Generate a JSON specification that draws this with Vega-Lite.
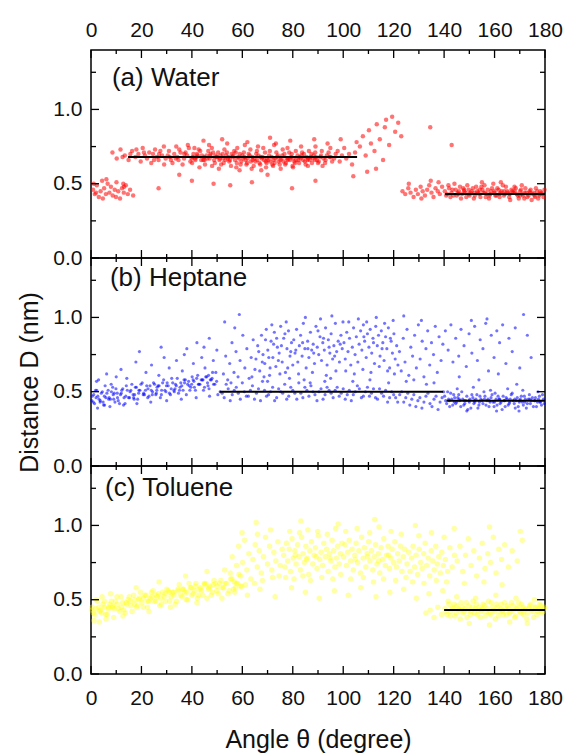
{
"$schema": "https://vega.github.io/schema/vega-lite/v6.json",
"background": "white",
"padding": {"left": 17, "top": 18, "right": 5, "bottom": 5},
"spacing": 0,
"bounds": "flush",
"datasets": {
 "xmaj": [{"v": 0}, {"v": 20}, {"v": 40}, {"v": 60}, {"v": 80}, {"v": 100}, {"v": 120}, {"v": 140}, {"v": 160}, {"v": 180}],
 "xmin": [{"v": 10}, {"v": 30}, {"v": 50}, {"v": 70}, {"v": 90}, {"v": 110}, {"v": 130}, {"v": 150}, {"v": 170}],
 "ymaj": [{"v": 0}, {"v": 0.5}, {"v": 1.0}],
 "ymin": [{"v": 0.25}, {"v": 0.75}, {"v": 1.25}]
},
"config": {
 "view": {"stroke": "#000", "strokeWidth": 1.5},
 "axis": {"domain": false, "grid": false, "ticks": false, "labelColor": "#111", "labelFont": "Liberation Sans", "labelFontSize": 21, "labelFlush": false, "labelOverlap": false, "titleFont": "Liberation Sans", "titleFontWeight": "normal", "titleColor": "#111"}
},
"vconcat": [
{
 "width": 454, "height": 208,
 "resolve": {"scale": {"x": "independent", "y": "independent"}, "axis": {"x": "independent", "y": "independent"}},
 "layer": [
  {
   "data": {"values": "x,y\n0.8,0.46\n1.5,0.43\n2.3,0.49\n3.1,0.41\n3.8,0.45\n4.4,0.52\n5.2,0.47\n5.9,0.43\n6.6,0.50\n7.3,0.44\n7.9,0.48\n8.6,0.42\n9.4,0.46\n10.1,0.51\n10.8,0.45\n11.5,0.40\n12.3,0.47\n13.0,0.44\n13.8,0.49\n14.6,0.43\n15.5,0.46\n16.7,0.42\n2.0,0.44\n6.1,0.53\n9.9,0.41\n12.8,0.50\n4.7,0.40\n1.1,0.50\n8.5,0.71\n10.2,0.67\n11.7,0.73\n13.4,0.69\n14.9,0.66\n16.3,0.72\n17.6,0.68\n18.8,0.70\n19.7,0.65\n20.5,0.74\n21.4,0.69\n22.2,0.67\n23.1,0.71\n23.9,0.64\n24.6,0.70\n25.4,0.73\n26.1,0.68\n26.8,0.66\n27.5,0.72\n28.2,0.69\n28.9,0.75\n29.6,0.67\n21.0,0.71\n25.0,0.66\n27.0,0.70\n29.0,0.63\n18.0,0.73\n15.6,0.70\n12.5,0.68\n30.4,0.69\n31.7,0.66\n33.0,0.70\n34.2,0.68\n35.5,0.71\n36.9,0.67\n38.1,0.69\n39.4,0.65\n40.6,0.70\n41.9,0.68\n43.3,0.72\n44.5,0.66\n45.8,0.69\n47.0,0.67\n48.4,0.71\n49.7,0.68\n50.9,0.66\n52.2,0.70\n53.6,0.69\n54.8,0.65\n56.1,0.68\n57.4,0.71\n58.7,0.67\n60.0,0.69\n61.3,0.66\n62.5,0.70\n63.9,0.68\n65.2,0.65\n66.4,0.69\n67.7,0.67\n69.0,0.71\n70.3,0.66\n71.6,0.68\n72.8,0.64\n74.1,0.69\n75.5,0.67\n76.7,0.70\n78.0,0.66\n79.3,0.68\n80.6,0.65\n81.9,0.69\n83.1,0.67\n84.4,0.70\n85.8,0.66\n87.0,0.68\n88.3,0.69\n89.6,0.66\n90.9,0.68\n92.2,0.67\n93.5,0.69\n95.0,0.68\n96.4,0.67\n30.9,0.72\n32.3,0.64\n33.6,0.67\n35.0,0.73\n36.3,0.63\n37.5,0.71\n38.8,0.74\n40.1,0.64\n41.4,0.66\n42.7,0.73\n44.0,0.69\n45.2,0.63\n46.5,0.72\n47.9,0.74\n49.1,0.64\n50.4,0.71\n51.6,0.63\n52.9,0.73\n54.2,0.67\n55.5,0.62\n56.8,0.72\n58.0,0.74\n59.3,0.63\n60.6,0.71\n61.9,0.64\n63.2,0.73\n64.5,0.62\n65.8,0.72\n67.1,0.63\n68.3,0.74\n69.6,0.64\n70.9,0.72\n72.2,0.62\n73.5,0.71\n74.8,0.63\n76.0,0.73\n77.3,0.64\n78.6,0.71\n79.9,0.62\n81.2,0.72\n82.5,0.64\n83.7,0.71\n85.1,0.63\n86.4,0.72\n87.6,0.64\n88.9,0.71\n90.3,0.65\n91.5,0.72\n92.8,0.64\n94.2,0.71\n95.6,0.65\n97.0,0.70\n31.2,0.68\n34.7,0.66\n37.0,0.70\n39.9,0.67\n42.3,0.69\n45.0,0.66\n47.4,0.70\n49.3,0.69\n51.1,0.67\n52.6,0.64\n53.9,0.71\n55.1,0.66\n56.4,0.69\n57.8,0.64\n59.0,0.70\n60.3,0.67\n61.6,0.63\n62.9,0.69\n64.1,0.66\n65.5,0.70\n66.8,0.64\n68.0,0.68\n69.3,0.65\n70.6,0.69\n71.9,0.63\n73.1,0.67\n74.4,0.65\n75.8,0.69\n77.0,0.63\n78.3,0.67\n79.6,0.70\n80.9,0.64\n82.2,0.66\n83.5,0.69\n84.8,0.65\n86.1,0.67\n87.4,0.70\n88.7,0.66\n90.0,0.64\n91.2,0.69\n93.0,0.66\n94.6,0.68\n40.3,0.68\n41.2,0.67\n42.0,0.70\n43.7,0.66\n44.9,0.68\n46.1,0.67\n47.2,0.69\n48.8,0.66\n50.0,0.68\n51.3,0.69\n52.4,0.67\n53.3,0.66\n54.5,0.68\n55.8,0.70\n57.1,0.66\n58.3,0.68\n59.6,0.65\n60.8,0.68\n62.1,0.67\n63.4,0.65\n64.7,0.67\n65.9,0.66\n67.3,0.68\n68.6,0.66\n69.8,0.67\n71.1,0.65\n72.4,0.66\n73.8,0.68\n75.1,0.66\n76.3,0.65\n77.6,0.67\n78.9,0.66\n80.2,0.67\n81.4,0.66\n82.8,0.68\n84.1,0.66\n85.4,0.68\n86.7,0.66\n88.0,0.67\n89.2,0.68\n33.8,0.75\n38.4,0.76\n43.0,0.61\n46.8,0.76\n50.7,0.60\n54.0,0.77\n57.6,0.61\n61.0,0.76\n63.7,0.60\n66.2,0.75\n69.4,0.61\n72.6,0.76\n75.2,0.60\n77.9,0.74\n80.1,0.61\n83.3,0.75\n86.0,0.62\n89.0,0.75\n91.8,0.62\n94.9,0.74\n58.9,0.59\n67.5,0.59\n73.3,0.77\n48.0,0.62\n41.0,0.74\n44.6,0.79\n52.0,0.80\n62.0,0.78\n71.0,0.81\n79.0,0.79\n88.5,0.80\n93.8,0.77\n26.8,0.47\n40.0,0.52\n48.6,0.50\n55.2,0.49\n63.8,0.51\n79.7,0.47\n89.0,0.52\n13.1,0.48\n35.0,0.56\n70.0,0.56\n97.8,0.72\n98.6,0.65\n99.5,0.69\n100.4,0.74\n101.2,0.67\n102.3,0.70\n103.5,0.63\n104.7,0.71\n105.3,0.78\n106.6,0.75\n107.8,0.82\n108.9,0.69\n110.2,0.86\n111.0,0.77\n112.4,0.72\n113.3,0.90\n114.5,0.80\n115.8,0.66\n117.0,0.93\n118.2,0.76\n119.4,0.95\n120.6,0.85\n121.8,0.91\n123.0,0.82\n113.0,0.60\n104.0,0.55\n109.5,0.58\n99.0,0.80\n116.5,0.88\n134.5,0.88\n143.0,0.76\n123.5,0.45\n124.6,0.43\n125.8,0.47\n126.7,0.44\n127.9,0.41\n128.8,0.46\n129.6,0.43\n130.7,0.48\n131.5,0.45\n132.4,0.42\n133.3,0.46\n134.1,0.49\n135.0,0.44\n135.8,0.41\n136.6,0.47\n137.5,0.45\n138.3,0.43\n139.2,0.48\n126.0,0.50\n131.0,0.40\n134.7,0.52\n137.8,0.51\n140.3,0.45\n141.2,0.43\n142.0,0.47\n142.9,0.44\n143.7,0.42\n144.6,0.46\n145.4,0.44\n146.3,0.48\n147.1,0.43\n148.0,0.45\n148.8,0.41\n149.7,0.46\n150.5,0.44\n151.4,0.47\n152.2,0.42\n153.1,0.45\n153.9,0.43\n154.8,0.48\n155.6,0.44\n156.5,0.41\n157.3,0.46\n158.2,0.43\n159.0,0.47\n159.9,0.44\n160.7,0.42\n161.6,0.46\n162.4,0.44\n163.3,0.49\n164.1,0.43\n165.0,0.45\n165.8,0.41\n166.7,0.46\n167.5,0.44\n168.4,0.47\n169.2,0.42\n170.1,0.45\n170.9,0.43\n171.8,0.40\n172.6,0.44\n173.5,0.42\n174.3,0.46\n175.2,0.43\n176.0,0.41\n176.9,0.45\n177.7,0.42\n178.6,0.44\n179.4,0.41\n140.8,0.42\n141.7,0.49\n142.5,0.41\n143.3,0.46\n144.1,0.50\n145.0,0.42\n145.9,0.45\n146.7,0.40\n147.6,0.47\n148.4,0.44\n149.2,0.49\n150.1,0.42\n150.9,0.45\n151.8,0.40\n152.7,0.48\n153.5,0.44\n154.4,0.41\n155.2,0.46\n156.0,0.49\n156.9,0.43\n157.8,0.40\n158.6,0.45\n159.5,0.50\n160.3,0.42\n161.1,0.47\n162.0,0.41\n162.8,0.45\n163.7,0.42\n164.5,0.48\n165.4,0.44\n166.2,0.39\n167.1,0.45\n167.9,0.48\n168.8,0.43\n169.6,0.40\n170.5,0.46\n171.3,0.42\n172.2,0.47\n173.0,0.41\n173.9,0.45\n174.7,0.39\n175.6,0.44\n176.4,0.47\n177.3,0.40\n178.1,0.45\n179.0,0.43\n179.8,0.46\n145.6,0.43\n147.9,0.46\n149.9,0.43\n152.0,0.44\n154.1,0.46\n156.2,0.44\n158.0,0.42\n160.0,0.45\n161.9,0.43\n163.9,0.45\n166.0,0.43\n168.0,0.45\n170.0,0.42\n171.9,0.44\n174.0,0.44\n175.9,0.42\n177.9,0.43\n155.0,0.51\n162.5,0.51\n170.8,0.49", "format": {"type": "csv", "parse": {"x": "number", "y": "number"}}},
   "mark": {"type": "circle", "size": 20, "opacity": 0.55, "color": "#ff0000"},
   "encoding": {
    "x": {"field": "x", "type": "quantitative", "scale": {"domain": [0, 180], "nice": false, "zero": false}, "axis": {"orient": "top", "values": [0,20,40,60,80,100,120,140,160,180], "labelPadding": 10, "title": null}},
    "y": {"field": "y", "type": "quantitative", "scale": {"domain": [0, 1.4], "nice": false}, "axis": {"orient": "left", "values": [0, 0.5, 1], "format": ".1f", "labelPadding": 9, "title": null}}
   }
  },
  {
   "data": {"values": [{"x1": 14.7, "x2": 105.5, "y": 0.68}, {"x1": 140.4, "x2": 180, "y": 0.43}]},
   "mark": {"type": "rule", "color": "#000", "strokeWidth": 2},
   "encoding": {"x": {"field": "x1", "type": "quantitative", "scale": {"domain": [0, 180], "nice": false, "zero": false}, "axis": null}, "x2": {"field": "x2"}, "y": {"field": "y", "type": "quantitative", "scale": {"domain": [0, 1.4], "nice": false}, "axis": null}}
  },
  {"data": {"name": "xmaj"}, "mark": {"type": "tick", "orient": "vertical", "size": 8, "thickness": 1.3, "color": "#000", "opacity": 1, "yOffset": -4}, "encoding": {"x": {"field": "v", "type": "quantitative", "scale": {"domain": [0, 180], "nice": false, "zero": false}, "axis": null}, "y": {"datum": 0, "type": "quantitative", "scale": {"domain": [0, 1.4], "nice": false}, "axis": null}}},
  {"data": {"name": "xmin"}, "mark": {"type": "tick", "orient": "vertical", "size": 4, "thickness": 1.3, "color": "#000", "opacity": 1, "yOffset": -2}, "encoding": {"x": {"field": "v", "type": "quantitative", "scale": {"domain": [0, 180], "nice": false, "zero": false}, "axis": null}, "y": {"datum": 0, "type": "quantitative", "scale": {"domain": [0, 1.4], "nice": false}, "axis": null}}},
  {"data": {"name": "xmaj"}, "mark": {"type": "tick", "orient": "vertical", "size": 8, "thickness": 1.3, "color": "#000", "opacity": 1, "yOffset": 4}, "encoding": {"x": {"field": "v", "type": "quantitative", "scale": {"domain": [0, 180], "nice": false, "zero": false}, "axis": null}, "y": {"datum": 1.4, "type": "quantitative", "scale": {"domain": [0, 1.4], "nice": false}, "axis": null}}},
  {"data": {"name": "xmin"}, "mark": {"type": "tick", "orient": "vertical", "size": 4, "thickness": 1.3, "color": "#000", "opacity": 1, "yOffset": 2}, "encoding": {"x": {"field": "v", "type": "quantitative", "scale": {"domain": [0, 180], "nice": false, "zero": false}, "axis": null}, "y": {"datum": 1.4, "type": "quantitative", "scale": {"domain": [0, 1.4], "nice": false}, "axis": null}}},
  {"data": {"name": "ymaj"}, "mark": {"type": "tick", "orient": "horizontal", "size": 8, "thickness": 1.3, "color": "#000", "opacity": 1, "xOffset": 4}, "encoding": {"y": {"field": "v", "type": "quantitative", "scale": {"domain": [0, 1.4], "nice": false}, "axis": null}, "x": {"datum": 0, "type": "quantitative", "scale": {"domain": [0, 180], "nice": false, "zero": false}, "axis": null}}},
  {"data": {"name": "ymin"}, "mark": {"type": "tick", "orient": "horizontal", "size": 5, "thickness": 1.3, "color": "#000", "opacity": 1, "xOffset": 2.5}, "encoding": {"y": {"field": "v", "type": "quantitative", "scale": {"domain": [0, 1.4], "nice": false}, "axis": null}, "x": {"datum": 0, "type": "quantitative", "scale": {"domain": [0, 180], "nice": false, "zero": false}, "axis": null}}},
  {"data": {"name": "ymaj"}, "mark": {"type": "tick", "orient": "horizontal", "size": 8, "thickness": 1.3, "color": "#000", "opacity": 1, "xOffset": -4}, "encoding": {"y": {"field": "v", "type": "quantitative", "scale": {"domain": [0, 1.4], "nice": false}, "axis": null}, "x": {"datum": 180, "type": "quantitative", "scale": {"domain": [0, 180], "nice": false, "zero": false}, "axis": null}}},
  {"data": {"name": "ymin"}, "mark": {"type": "tick", "orient": "horizontal", "size": 5, "thickness": 1.3, "color": "#000", "opacity": 1, "xOffset": -2.5}, "encoding": {"y": {"field": "v", "type": "quantitative", "scale": {"domain": [0, 1.4], "nice": false}, "axis": null}, "x": {"datum": 180, "type": "quantitative", "scale": {"domain": [0, 180], "nice": false, "zero": false}, "axis": null}}},
  {
   "data": {"values": [{"label": "(a) Water"}]},
   "mark": {"type": "text", "align": "left", "baseline": "middle", "fontSize": 26, "font": "Liberation Sans", "color": "#111"},
   "encoding": {"x": {"datum": 8.3, "type": "quantitative", "scale": {"domain": [0, 180], "nice": false, "zero": false}, "axis": null}, "y": {"datum": 1.21, "type": "quantitative", "scale": {"domain": [0, 1.4], "nice": false}, "axis": null}, "text": {"field": "label"}}
  }
 ]
},
{
 "width": 454, "height": 208,
 "resolve": {"scale": {"x": "independent", "y": "independent"}, "axis": {"x": "independent", "y": "independent"}},
 "layer": [
  {
   "data": {"values": "x,y\n0.5,0.47\n1.4,0.42\n2.3,0.51\n3.2,0.45\n4.1,0.49\n5.0,0.41\n5.9,0.46\n6.8,0.51\n7.7,0.45\n8.6,0.53\n9.5,0.43\n10.4,0.49\n11.3,0.42\n12.2,0.51\n13.1,0.46\n14.0,0.54\n14.9,0.46\n15.8,0.51\n16.7,0.48\n17.6,0.53\n18.5,0.45\n19.4,0.51\n20.3,0.56\n21.2,0.48\n22.1,0.54\n23.0,0.47\n23.9,0.51\n24.8,0.56\n25.7,0.48\n26.6,0.54\n27.5,0.46\n28.4,0.56\n29.3,0.51\n30.2,0.56\n31.1,0.49\n32.0,0.59\n32.9,0.51\n33.8,0.54\n34.7,0.49\n35.6,0.56\n36.5,0.51\n37.4,0.58\n38.3,0.55\n39.2,0.51\n40.1,0.60\n41.0,0.53\n41.9,0.59\n42.8,0.55\n43.7,0.58\n44.6,0.51\n45.5,0.60\n46.4,0.54\n47.3,0.58\n48.2,0.63\n49.1,0.55\n0.9,0.43\n1.8,0.51\n2.7,0.47\n3.6,0.43\n4.5,0.50\n5.4,0.41\n6.3,0.49\n7.2,0.46\n8.1,0.50\n9.0,0.45\n9.9,0.52\n10.8,0.44\n11.7,0.48\n12.6,0.52\n13.5,0.42\n14.4,0.51\n15.3,0.46\n16.2,0.55\n17.1,0.45\n18.0,0.53\n18.9,0.49\n19.8,0.55\n20.7,0.48\n21.6,0.51\n22.5,0.46\n23.4,0.54\n24.3,0.48\n25.2,0.55\n26.1,0.51\n27.0,0.54\n27.9,0.48\n28.8,0.58\n29.7,0.50\n30.6,0.54\n31.5,0.48\n32.4,0.56\n33.3,0.52\n34.2,0.59\n35.1,0.51\n36.0,0.54\n36.9,0.58\n37.8,0.48\n38.7,0.57\n39.6,0.53\n40.5,0.58\n41.4,0.51\n42.3,0.61\n43.2,0.55\n44.1,0.58\n45.0,0.53\n45.9,0.60\n46.8,0.52\n47.7,0.58\n48.6,0.55\n49.5,0.63\n0.3,0.44\n2.0,0.46\n3.7,0.44\n5.3,0.47\n7.0,0.45\n8.8,0.48\n10.5,0.46\n12.0,0.49\n13.8,0.47\n15.5,0.50\n17.3,0.48\n19.0,0.51\n20.9,0.49\n22.6,0.52\n24.4,0.50\n26.2,0.53\n28.0,0.51\n29.9,0.54\n31.8,0.52\n33.5,0.55\n35.3,0.53\n37.1,0.56\n38.9,0.54\n40.8,0.57\n42.6,0.55\n44.4,0.58\n46.2,0.56\n48.0,0.59\n49.8,0.57\n1.1,0.48\n4.8,0.43\n9.2,0.49\n16.9,0.46\n25.9,0.49\n33.0,0.50\n39.9,0.55\n46.6,0.61\n3.0,0.58\n6.2,0.62\n8.0,0.55\n11.9,0.65\n14.2,0.59\n17.8,0.70\n19.2,0.77\n21.8,0.63\n24.0,0.68\n26.9,0.61\n29.0,0.73\n31.0,0.66\n33.9,0.71\n36.2,0.64\n38.0,0.79\n40.6,0.69\n42.0,0.83\n43.9,0.73\n45.2,0.66\n46.9,0.86\n48.5,0.71\n49.9,0.78\n44.8,0.80\n37.0,0.75\n27.8,0.80\n10.0,0.60\n2.2,0.57\n5.6,0.54\n2.6,0.39\n7.5,0.40\n12.9,0.41\n18.2,0.42\n23.7,0.43\n30.0,0.44\n35.8,0.45\n41.7,0.46\n47.0,0.47\n50.3,0.48\n51.2,0.50\n52.8,0.46\n54.4,0.52\n56.0,0.48\n57.6,0.53\n59.2,0.45\n60.8,0.50\n62.4,0.47\n64.0,0.54\n65.6,0.49\n67.2,0.44\n68.8,0.51\n70.4,0.48\n72.0,0.53\n73.6,0.46\n75.2,0.50\n76.8,0.55\n78.4,0.47\n80.0,0.51\n81.6,0.45\n83.2,0.49\n84.8,0.53\n86.4,0.47\n88.0,0.50\n89.6,0.44\n91.2,0.52\n92.8,0.48\n94.4,0.51\n96.0,0.46\n97.6,0.53\n99.2,0.49\n100.8,0.45\n102.4,0.51\n104.0,0.48\n105.6,0.54\n107.2,0.46\n108.8,0.50\n110.4,0.47\n112.0,0.52\n113.6,0.45\n115.2,0.49\n116.8,0.51\n118.4,0.46\n120.0,0.48\n121.6,0.43\n123.2,0.50\n124.8,0.46\n126.4,0.41\n128.0,0.48\n129.6,0.44\n131.2,0.39\n132.8,0.47\n134.4,0.42\n136.0,0.45\n137.6,0.38\n139.2,0.46\n52.0,0.49\n53.6,0.55\n55.2,0.44\n56.8,0.51\n58.4,0.49\n60.0,0.56\n61.6,0.47\n63.2,0.51\n64.8,0.45\n66.4,0.52\n68.0,0.57\n69.6,0.47\n71.2,0.50\n72.8,0.44\n74.4,0.52\n76.0,0.49\n77.6,0.45\n79.2,0.53\n80.8,0.49\n82.4,0.56\n84.0,0.46\n85.6,0.51\n87.2,0.54\n88.8,0.48\n90.4,0.50\n92.0,0.45\n93.6,0.53\n95.2,0.49\n96.8,0.51\n98.4,0.47\n100.0,0.52\n101.6,0.48\n103.2,0.44\n104.8,0.50\n106.4,0.52\n108.0,0.47\n109.6,0.53\n111.2,0.49\n112.8,0.46\n114.4,0.52\n116.0,0.47\n117.6,0.43\n119.2,0.50\n120.8,0.46\n122.4,0.48\n124.0,0.43\n125.6,0.49\n127.2,0.45\n128.8,0.40\n130.4,0.46\n132.0,0.43\n133.6,0.49\n135.2,0.40\n136.8,0.47\n138.4,0.43\n139.8,0.50\n52.5,0.62\n53.4,0.74\n54.2,0.58\n55.0,0.69\n55.9,0.83\n56.7,0.63\n57.5,0.77\n58.3,0.60\n59.1,0.71\n60.2,0.88\n61.0,0.66\n61.8,0.79\n62.7,0.59\n63.5,0.73\n64.3,0.85\n65.0,0.65\n57.0,0.93\n53.0,0.97\n58.8,1.02\n65.4,0.72\n66.1,0.81\n66.9,0.64\n67.6,0.88\n68.2,0.75\n68.9,0.69\n69.5,0.92\n70.1,0.78\n70.8,0.61\n71.4,0.84\n72.1,0.73\n72.7,0.90\n73.3,0.67\n73.9,0.80\n74.6,0.76\n75.2,0.94\n75.8,0.70\n76.4,0.86\n77.1,0.63\n77.7,0.79\n78.3,0.91\n78.9,0.74\n79.5,0.83\n80.0,0.68\n66.5,0.77\n67.9,0.70\n69.2,0.85\n70.5,0.73\n71.7,0.95\n72.4,0.82\n73.6,0.86\n74.3,0.71\n75.5,0.81\n76.9,0.89\n78.0,0.66\n79.2,0.77\n68.6,0.60\n71.0,0.66\n74.9,0.62\n77.4,0.97\n80.4,0.85\n80.9,0.76\n81.5,0.92\n82.0,0.70\n82.6,0.81\n83.1,0.88\n83.7,0.74\n84.2,0.96\n84.8,0.79\n85.3,0.66\n85.9,0.84\n86.4,0.73\n87.0,0.90\n87.5,0.78\n88.1,0.82\n88.6,0.69\n89.2,0.94\n89.7,0.80\n90.3,0.75\n90.8,0.87\n91.4,0.71\n91.9,0.83\n92.5,0.78\n93.0,0.93\n93.6,0.68\n94.1,0.85\n94.7,0.76\n95.2,0.89\n95.8,0.72\n96.3,0.81\n96.9,0.96\n97.4,0.77\n98.0,0.84\n98.5,0.70\n99.1,0.88\n99.6,0.79\n81.2,0.78\n83.9,0.83\n86.0,0.79\n88.3,0.76\n90.0,0.91\n92.2,0.86\n94.4,0.80\n96.6,0.74\n98.8,0.82\n82.3,0.62\n87.8,0.63\n93.3,0.61\n97.1,0.64\n85.0,1.00\n91.0,0.99\n95.5,1.01\n99.9,0.97\n84.5,0.58\n92.7,0.57\n100.3,0.83\n100.8,0.72\n101.4,0.90\n101.9,0.77\n102.5,0.86\n103.0,0.68\n103.6,0.80\n104.1,0.93\n104.7,0.75\n105.2,0.87\n105.8,0.70\n106.3,0.82\n106.9,0.91\n107.4,0.78\n108.0,0.95\n108.5,0.84\n109.1,0.73\n109.6,0.89\n110.2,0.80\n110.7,0.92\n111.3,0.76\n111.8,0.86\n112.4,0.69\n112.9,0.94\n113.5,0.81\n114.0,0.88\n114.6,0.74\n115.1,0.91\n115.7,0.83\n116.2,0.71\n116.8,0.87\n117.3,0.79\n117.9,0.93\n118.4,0.66\n119.0,0.84\n119.5,0.76\n120.1,0.89\n120.6,0.72\n121.2,0.81\n121.7,0.68\n101.0,0.64\n104.4,0.62\n107.8,0.65\n111.0,0.63\n114.3,0.67\n117.6,0.64\n120.3,0.62\n102.2,0.97\n106.0,0.99\n109.3,0.97\n113.1,1.00\n116.4,0.96\n119.8,0.98\n108.2,0.87\n112.0,0.83\n115.4,0.79\n118.7,0.86\n122.3,0.77\n123.0,0.64\n123.8,0.86\n124.5,0.70\n125.3,0.92\n126.0,0.61\n126.8,0.80\n127.5,0.74\n128.3,0.88\n129.0,0.66\n129.8,0.95\n130.5,0.72\n131.3,0.84\n132.0,0.60\n132.8,0.79\n133.5,0.91\n134.3,0.68\n135.0,0.83\n135.8,0.75\n136.5,0.94\n137.3,0.63\n138.0,0.87\n138.8,0.71\n139.5,0.82\n124.0,1.01\n131.0,0.98\n136.0,0.56\n128.0,0.58\n140.5,0.91\n141.6,0.78\n142.7,0.95\n143.5,0.70\n144.6,0.86\n145.8,0.74\n146.7,0.92\n147.9,0.81\n148.8,0.67\n149.9,0.89\n151.0,0.76\n152.1,0.94\n153.2,0.71\n154.3,0.85\n155.4,0.79\n156.5,0.96\n157.6,0.64\n158.7,0.88\n159.8,0.73\n160.9,0.91\n162.0,0.83\n163.2,0.95\n164.5,0.69\n165.7,0.86\n167.0,0.77\n168.2,0.93\n170.0,0.66\n171.5,1.02\n173.0,0.88\n174.5,0.73\n146.0,0.60\n153.8,0.58\n161.5,0.62\n168.8,0.55\n150.8,0.98\n157.0,0.99\n55.5,0.56\n63.8,0.60\n70.0,0.57\n78.7,0.59\n86.9,0.56\n95.0,0.59\n103.8,0.57\n110.6,0.58\n118.0,0.56\n125.0,0.57\n133.0,0.55\n140.2,0.47\n141.0,0.42\n141.8,0.45\n142.6,0.49\n143.4,0.41\n144.2,0.46\n145.0,0.43\n145.8,0.48\n146.6,0.40\n147.4,0.45\n148.2,0.42\n149.0,0.47\n149.8,0.44\n150.6,0.39\n151.4,0.46\n152.2,0.43\n153.0,0.48\n153.8,0.41\n154.6,0.45\n155.4,0.42\n156.2,0.47\n157.0,0.44\n157.8,0.40\n158.6,0.46\n159.4,0.43\n160.2,0.49\n161.0,0.41\n161.8,0.45\n162.6,0.43\n163.4,0.47\n164.2,0.40\n165.0,0.45\n165.8,0.42\n166.6,0.48\n167.4,0.44\n168.2,0.39\n169.0,0.46\n169.8,0.43\n170.6,0.47\n171.4,0.41\n172.2,0.45\n173.0,0.42\n173.8,0.48\n174.6,0.44\n175.4,0.40\n176.2,0.46\n177.0,0.43\n177.8,0.47\n178.6,0.41\n179.4,0.45\n140.6,0.44\n141.4,0.50\n142.2,0.40\n143.0,0.45\n143.8,0.48\n144.6,0.42\n145.4,0.46\n146.2,0.44\n147.0,0.50\n147.8,0.41\n148.6,0.44\n149.4,0.38\n150.2,0.45\n151.0,0.48\n151.8,0.42\n152.6,0.45\n153.4,0.39\n154.2,0.47\n155.0,0.44\n155.8,0.50\n156.6,0.41\n157.4,0.45\n158.2,0.43\n159.0,0.48\n159.8,0.40\n160.6,0.45\n161.4,0.47\n162.2,0.42\n163.0,0.38\n163.8,0.44\n164.6,0.46\n165.4,0.41\n166.2,0.45\n167.0,0.49\n167.8,0.42\n168.6,0.44\n169.4,0.40\n170.2,0.45\n171.0,0.43\n171.8,0.47\n172.6,0.39\n173.4,0.45\n174.2,0.42\n175.0,0.46\n175.8,0.44\n176.6,0.40\n177.4,0.45\n178.2,0.43\n179.0,0.48\n179.7,0.42\n142.0,0.44\n144.0,0.43\n146.0,0.45\n148.0,0.44\n150.0,0.43\n152.0,0.44\n154.0,0.43\n156.0,0.45\n158.0,0.44\n160.0,0.43\n162.0,0.45\n164.0,0.44\n166.0,0.43\n168.0,0.45\n170.0,0.44\n172.0,0.43\n174.0,0.45\n176.0,0.44\n178.0,0.43\n145.2,0.52\n151.6,0.53\n158.4,0.51\n165.2,0.52\n171.2,0.51\n177.2,0.50\n149.0,0.37\n160.8,0.37\n169.7,0.37", "format": {"type": "csv", "parse": {"x": "number", "y": "number"}}},
   "mark": {"type": "circle", "size": 10, "opacity": 0.55, "color": "#0000ff"},
   "encoding": {
    "x": {"field": "x", "type": "quantitative", "scale": {"domain": [0, 180], "nice": false, "zero": false}, "axis": null},
    "y": {"field": "y", "type": "quantitative", "scale": {"domain": [0, 1.4], "nice": false}, "axis": {"orient": "left", "values": [0, 0.5, 1], "format": ".1f", "labelPadding": 9, "title": "Distance D (nm)", "titleFontSize": 25, "titlePadding": 10, "titleY": 124}}
   }
  },
  {
   "data": {"values": [{"x1": 51, "x2": 139.6, "y": 0.5}, {"x1": 141, "x2": 180, "y": 0.44}]},
   "mark": {"type": "rule", "color": "#000", "strokeWidth": 2},
   "encoding": {"x": {"field": "x1", "type": "quantitative", "scale": {"domain": [0, 180], "nice": false, "zero": false}, "axis": null}, "x2": {"field": "x2"}, "y": {"field": "y", "type": "quantitative", "scale": {"domain": [0, 1.4], "nice": false}, "axis": null}}
  },
  {"data": {"name": "xmaj"}, "mark": {"type": "tick", "orient": "vertical", "size": 8, "thickness": 1.3, "color": "#000", "opacity": 1, "yOffset": -4}, "encoding": {"x": {"field": "v", "type": "quantitative", "scale": {"domain": [0, 180], "nice": false, "zero": false}, "axis": null}, "y": {"datum": 0, "type": "quantitative", "scale": {"domain": [0, 1.4], "nice": false}, "axis": null}}},
  {"data": {"name": "xmin"}, "mark": {"type": "tick", "orient": "vertical", "size": 4, "thickness": 1.3, "color": "#000", "opacity": 1, "yOffset": -2}, "encoding": {"x": {"field": "v", "type": "quantitative", "scale": {"domain": [0, 180], "nice": false, "zero": false}, "axis": null}, "y": {"datum": 0, "type": "quantitative", "scale": {"domain": [0, 1.4], "nice": false}, "axis": null}}},
  {"data": {"name": "xmaj"}, "mark": {"type": "tick", "orient": "vertical", "size": 8, "thickness": 1.3, "color": "#000", "opacity": 1, "yOffset": 4}, "encoding": {"x": {"field": "v", "type": "quantitative", "scale": {"domain": [0, 180], "nice": false, "zero": false}, "axis": null}, "y": {"datum": 1.4, "type": "quantitative", "scale": {"domain": [0, 1.4], "nice": false}, "axis": null}}},
  {"data": {"name": "xmin"}, "mark": {"type": "tick", "orient": "vertical", "size": 4, "thickness": 1.3, "color": "#000", "opacity": 1, "yOffset": 2}, "encoding": {"x": {"field": "v", "type": "quantitative", "scale": {"domain": [0, 180], "nice": false, "zero": false}, "axis": null}, "y": {"datum": 1.4, "type": "quantitative", "scale": {"domain": [0, 1.4], "nice": false}, "axis": null}}},
  {"data": {"name": "ymaj"}, "mark": {"type": "tick", "orient": "horizontal", "size": 8, "thickness": 1.3, "color": "#000", "opacity": 1, "xOffset": 4}, "encoding": {"y": {"field": "v", "type": "quantitative", "scale": {"domain": [0, 1.4], "nice": false}, "axis": null}, "x": {"datum": 0, "type": "quantitative", "scale": {"domain": [0, 180], "nice": false, "zero": false}, "axis": null}}},
  {"data": {"name": "ymin"}, "mark": {"type": "tick", "orient": "horizontal", "size": 5, "thickness": 1.3, "color": "#000", "opacity": 1, "xOffset": 2.5}, "encoding": {"y": {"field": "v", "type": "quantitative", "scale": {"domain": [0, 1.4], "nice": false}, "axis": null}, "x": {"datum": 0, "type": "quantitative", "scale": {"domain": [0, 180], "nice": false, "zero": false}, "axis": null}}},
  {"data": {"name": "ymaj"}, "mark": {"type": "tick", "orient": "horizontal", "size": 8, "thickness": 1.3, "color": "#000", "opacity": 1, "xOffset": -4}, "encoding": {"y": {"field": "v", "type": "quantitative", "scale": {"domain": [0, 1.4], "nice": false}, "axis": null}, "x": {"datum": 180, "type": "quantitative", "scale": {"domain": [0, 180], "nice": false, "zero": false}, "axis": null}}},
  {"data": {"name": "ymin"}, "mark": {"type": "tick", "orient": "horizontal", "size": 5, "thickness": 1.3, "color": "#000", "opacity": 1, "xOffset": -2.5}, "encoding": {"y": {"field": "v", "type": "quantitative", "scale": {"domain": [0, 1.4], "nice": false}, "axis": null}, "x": {"datum": 180, "type": "quantitative", "scale": {"domain": [0, 180], "nice": false, "zero": false}, "axis": null}}},
  {
   "data": {"values": [{"label": "(b) Heptane"}]},
   "mark": {"type": "text", "align": "left", "baseline": "middle", "fontSize": 26, "font": "Liberation Sans", "color": "#111"},
   "encoding": {"x": {"datum": 7.5, "type": "quantitative", "scale": {"domain": [0, 180], "nice": false, "zero": false}, "axis": null}, "y": {"datum": 1.265, "type": "quantitative", "scale": {"domain": [0, 1.4], "nice": false}, "axis": null}, "text": {"field": "label"}}
  }
 ]
},
{
 "width": 454, "height": 208,
 "resolve": {"scale": {"x": "independent", "y": "independent"}, "axis": {"x": "independent", "y": "independent"}},
 "layer": [
  {
   "data": {"values": "x,y\n0.4,0.45\n1.5,0.40\n2.6,0.49\n3.7,0.43\n4.8,0.47\n5.9,0.40\n7.0,0.45\n8.1,0.49\n9.2,0.44\n10.3,0.52\n11.4,0.42\n12.5,0.48\n13.6,0.41\n14.7,0.50\n15.8,0.46\n16.9,0.53\n18.0,0.45\n19.1,0.51\n20.2,0.48\n21.3,0.53\n22.4,0.45\n23.5,0.51\n24.6,0.56\n25.7,0.49\n26.8,0.54\n27.9,0.47\n29.0,0.52\n30.1,0.57\n31.2,0.49\n32.3,0.55\n33.4,0.47\n34.5,0.57\n35.6,0.53\n36.7,0.57\n37.8,0.50\n38.9,0.61\n40.0,0.53\n41.1,0.56\n42.2,0.51\n43.3,0.58\n44.4,0.53\n45.5,0.61\n46.6,0.57\n47.7,0.53\n48.8,0.63\n49.9,0.56\n51.0,0.61\n52.1,0.58\n53.2,0.61\n54.3,0.54\n55.4,0.64\n56.5,0.57\n57.6,0.61\n58.7,0.67\n59.8,0.59\n0.9,0.41\n2.0,0.50\n3.1,0.45\n4.2,0.41\n5.3,0.49\n6.4,0.40\n7.5,0.47\n8.6,0.45\n9.7,0.49\n10.8,0.44\n11.9,0.52\n13.0,0.43\n14.1,0.47\n15.2,0.52\n16.3,0.42\n17.4,0.50\n18.5,0.46\n19.6,0.55\n20.7,0.45\n21.8,0.53\n22.9,0.49\n24.0,0.55\n25.1,0.49\n26.2,0.52\n27.3,0.46\n28.4,0.55\n29.5,0.49\n30.6,0.56\n31.7,0.52\n32.8,0.55\n33.9,0.49\n35.0,0.60\n36.1,0.52\n37.2,0.55\n38.3,0.50\n39.4,0.58\n40.5,0.54\n41.6,0.61\n42.7,0.53\n43.8,0.56\n44.9,0.61\n46.0,0.51\n47.1,0.59\n48.2,0.55\n49.3,0.61\n50.4,0.54\n51.5,0.63\n52.6,0.58\n53.7,0.61\n54.8,0.56\n55.9,0.64\n57.0,0.55\n58.1,0.61\n59.2,0.59\n0.2,0.43\n1.9,0.44\n3.5,0.42\n5.2,0.45\n6.9,0.44\n8.7,0.46\n10.4,0.47\n12.1,0.45\n13.9,0.48\n15.6,0.49\n17.3,0.47\n19.0,0.50\n20.8,0.51\n22.5,0.49\n24.2,0.52\n25.9,0.53\n27.7,0.51\n29.4,0.54\n31.1,0.55\n32.9,0.53\n34.6,0.56\n36.3,0.57\n38.0,0.55\n39.8,0.58\n41.5,0.59\n43.2,0.57\n45.0,0.60\n46.7,0.58\n48.4,0.60\n50.1,0.59\n1.2,0.36\n3.3,0.35\n6.0,0.37\n9.0,0.38\n12.7,0.39\n4.4,0.52\n7.8,0.54\n17.9,0.58\n27.0,0.62\n37.5,0.66\n46.0,0.69\n53.0,0.70\n23.0,0.42\n31.5,0.45\n42.0,0.48\n51.9,0.51\n55.2,0.68\n56.0,0.79\n56.8,0.62\n57.7,0.73\n58.5,0.86\n59.3,0.66\n60.1,0.75\n60.9,0.90\n61.8,0.70\n62.6,0.81\n63.4,0.64\n64.2,0.77\n65.1,0.87\n65.9,0.72\n66.7,0.83\n67.5,0.68\n68.4,0.79\n69.2,0.92\n70.0,0.74\n70.8,0.86\n71.7,0.70\n72.5,0.82\n73.3,0.76\n74.1,0.89\n75.0,0.73\n75.8,0.84\n57.3,0.58\n61.2,0.60\n64.8,0.61\n68.0,0.63\n72.0,0.65\n59.9,0.95\n66.0,0.94\n71.2,0.97\n74.6,0.66\n76.4,0.80\n76.9,0.72\n77.5,0.88\n78.0,0.76\n78.6,0.84\n79.1,0.69\n79.7,0.91\n80.2,0.78\n80.8,0.83\n81.3,0.74\n81.9,0.87\n82.4,0.79\n83.0,0.70\n83.5,0.92\n84.1,0.81\n84.6,0.75\n85.2,0.86\n85.7,0.78\n86.3,0.67\n86.8,0.83\n87.4,0.89\n87.9,0.74\n88.5,0.80\n89.0,0.85\n89.6,0.71\n90.1,0.93\n90.7,0.77\n91.2,0.82\n91.8,0.73\n92.3,0.88\n92.9,0.79\n93.4,0.84\n94.0,0.69\n94.5,0.81\n95.1,0.76\n95.6,0.90\n96.2,0.83\n96.7,0.72\n97.3,0.78\n97.8,0.86\n98.4,0.74\n98.9,0.81\n99.5,0.88\n77.2,0.65\n80.5,0.64\n84.0,0.66\n87.0,0.63\n91.5,0.65\n95.9,0.64\n99.0,0.67\n78.8,0.96\n82.7,0.95\n86.0,0.97\n89.9,0.96\n93.7,0.94\n97.0,0.98\n81.0,0.80\n85.4,0.77\n89.3,0.79\n94.8,0.78\n100.2,0.79\n100.7,0.87\n101.3,0.73\n101.8,0.82\n102.4,0.90\n102.9,0.76\n103.5,0.84\n104.0,0.70\n104.6,0.80\n105.1,0.88\n105.7,0.75\n106.2,0.83\n106.8,0.68\n107.3,0.92\n107.9,0.78\n108.4,0.85\n109.0,0.72\n109.5,0.81\n110.1,0.89\n110.6,0.76\n111.2,0.83\n111.7,0.70\n112.3,0.79\n112.8,0.87\n113.4,0.74\n113.9,0.81\n114.5,0.68\n115.0,0.85\n115.6,0.77\n116.1,0.91\n116.7,0.73\n117.2,0.80\n117.8,0.86\n118.3,0.71\n118.9,0.78\n119.4,0.84\n120.0,0.75\n120.5,0.89\n121.1,0.72\n121.6,0.81\n122.2,0.76\n122.7,0.86\n123.3,0.69\n123.8,0.79\n124.4,0.84\n103.0,0.64\n108.0,0.65\n112.0,0.62\n116.0,0.64\n120.8,0.63\n124.9,0.65\n101.0,0.96\n105.5,0.98\n110.5,0.95\n114.2,0.99\n119.0,0.96\n123.0,0.94\n104.8,0.77\n109.7,0.79\n114.0,0.76\n118.0,0.80\n125.3,0.74\n125.9,0.82\n126.5,0.69\n127.1,0.78\n127.7,0.86\n128.3,0.72\n128.9,0.80\n129.5,0.67\n130.1,0.84\n130.7,0.75\n131.3,0.71\n131.9,0.81\n132.5,0.88\n133.1,0.73\n133.7,0.78\n134.3,0.66\n134.9,0.83\n135.5,0.76\n136.1,0.70\n136.7,0.86\n137.3,0.74\n137.9,0.79\n138.5,0.68\n139.1,0.82\n139.7,0.73\n140.5,0.77\n141.4,0.69\n142.3,0.85\n143.2,0.72\n144.1,0.80\n127.5,0.62\n132.0,0.61\n136.9,0.63\n141.0,0.62\n130.0,0.93\n135.0,0.95\n140.0,0.92\n145.2,0.76\n146.3,0.86\n147.4,0.69\n148.5,0.80\n149.6,0.91\n150.7,0.73\n151.8,0.83\n152.9,0.66\n154.0,0.78\n155.1,0.88\n156.2,0.71\n157.3,0.81\n158.4,0.75\n159.5,0.92\n160.6,0.68\n161.7,0.84\n162.8,0.77\n164.0,0.87\n165.5,0.72\n167.0,0.83\n169.0,0.76\n171.0,0.90\n148.0,0.61\n155.8,0.62\n163.0,0.60\n62.0,0.53\n67.0,0.57\n73.0,0.52\n79.5,0.58\n85.0,0.55\n90.5,0.51\n96.5,0.56\n102.0,0.53\n107.0,0.58\n113.0,0.52\n118.5,0.55\n124.0,0.57\n129.0,0.51\n134.0,0.54\n139.5,0.56\n65.5,1.02\n83.2,1.03\n98.0,1.01\n112.5,1.04\n128.6,1.00\n144.0,0.98\n158.0,0.99\n170.2,0.96\n140.3,0.44\n141.1,0.40\n141.9,0.47\n142.7,0.42\n143.5,0.45\n144.3,0.39\n145.1,0.46\n145.9,0.43\n146.7,0.48\n147.5,0.41\n148.3,0.44\n149.1,0.38\n149.9,0.46\n150.7,0.42\n151.5,0.49\n152.3,0.44\n153.1,0.40\n153.9,0.45\n154.7,0.42\n155.5,0.47\n156.3,0.39\n157.1,0.44\n157.9,0.41\n158.7,0.48\n159.5,0.43\n160.3,0.37\n161.1,0.45\n161.9,0.42\n162.7,0.47\n163.5,0.40\n164.3,0.44\n165.1,0.46\n165.9,0.41\n166.7,0.48\n167.5,0.43\n168.3,0.39\n169.1,0.45\n169.9,0.42\n170.7,0.47\n171.5,0.40\n172.3,0.44\n173.1,0.41\n173.9,0.46\n174.7,0.43\n175.5,0.38\n176.3,0.45\n177.1,0.42\n177.9,0.47\n178.7,0.41\n179.5,0.44\n140.8,0.42\n141.6,0.49\n142.4,0.39\n143.2,0.44\n144.0,0.47\n144.8,0.41\n145.6,0.44\n146.4,0.37\n147.2,0.45\n148.0,0.42\n148.8,0.48\n149.6,0.43\n150.4,0.40\n151.2,0.45\n152.0,0.41\n152.8,0.47\n153.6,0.43\n154.4,0.38\n155.2,0.44\n156.0,0.46\n156.8,0.42\n157.6,0.49\n158.4,0.40\n159.2,0.45\n160.0,0.42\n160.8,0.47\n161.6,0.39\n162.4,0.44\n163.2,0.43\n164.0,0.48\n164.8,0.40\n165.6,0.44\n166.4,0.42\n167.2,0.46\n168.0,0.38\n168.8,0.44\n169.6,0.48\n170.4,0.41\n171.2,0.45\n172.0,0.43\n172.8,0.37\n173.6,0.44\n174.4,0.47\n175.2,0.42\n176.0,0.45\n176.8,0.40\n177.6,0.44\n178.4,0.46\n179.2,0.42\n179.8,0.45\n139.0,0.40\n137.5,0.45\n136.0,0.38\n134.5,0.43\n132.8,0.41\n145.0,0.52\n152.5,0.51\n160.5,0.53\n168.5,0.51\n175.8,0.50\n150.0,0.34\n158.0,0.33\n166.0,0.35\n173.0,0.34\n147.0,0.43\n155.0,0.43\n163.0,0.42\n171.0,0.43\n178.0,0.43", "format": {"type": "csv", "parse": {"x": "number", "y": "number"}}},
   "mark": {"type": "circle", "size": 30, "opacity": 0.35, "color": "#ffff00"},
   "encoding": {
    "x": {"field": "x", "type": "quantitative", "scale": {"domain": [0, 180], "nice": false, "zero": false}, "axis": {"orient": "bottom", "values": [0,20,40,60,80,100,120,140,160,180], "labelPadding": 13, "title": "Angle θ (degree)", "titleFontSize": 25, "titlePadding": 19}},
    "y": {"field": "y", "type": "quantitative", "scale": {"domain": [0, 1.4], "nice": false}, "axis": {"orient": "left", "values": [0, 0.5, 1], "format": ".1f", "labelPadding": 9, "title": null}}
   }
  },
  {
   "data": {"values": [{"x1": 140, "x2": 180, "y": 0.43}]},
   "mark": {"type": "rule", "color": "#000", "strokeWidth": 2},
   "encoding": {"x": {"field": "x1", "type": "quantitative", "scale": {"domain": [0, 180], "nice": false, "zero": false}, "axis": null}, "x2": {"field": "x2"}, "y": {"field": "y", "type": "quantitative", "scale": {"domain": [0, 1.4], "nice": false}, "axis": null}}
  },
  {"data": {"name": "xmaj"}, "mark": {"type": "tick", "orient": "vertical", "size": 8, "thickness": 1.3, "color": "#000", "opacity": 1, "yOffset": -4}, "encoding": {"x": {"field": "v", "type": "quantitative", "scale": {"domain": [0, 180], "nice": false, "zero": false}, "axis": null}, "y": {"datum": 0, "type": "quantitative", "scale": {"domain": [0, 1.4], "nice": false}, "axis": null}}},
  {"data": {"name": "xmin"}, "mark": {"type": "tick", "orient": "vertical", "size": 4, "thickness": 1.3, "color": "#000", "opacity": 1, "yOffset": -2}, "encoding": {"x": {"field": "v", "type": "quantitative", "scale": {"domain": [0, 180], "nice": false, "zero": false}, "axis": null}, "y": {"datum": 0, "type": "quantitative", "scale": {"domain": [0, 1.4], "nice": false}, "axis": null}}},
  {"data": {"name": "xmaj"}, "mark": {"type": "tick", "orient": "vertical", "size": 8, "thickness": 1.3, "color": "#000", "opacity": 1, "yOffset": 4}, "encoding": {"x": {"field": "v", "type": "quantitative", "scale": {"domain": [0, 180], "nice": false, "zero": false}, "axis": null}, "y": {"datum": 1.4, "type": "quantitative", "scale": {"domain": [0, 1.4], "nice": false}, "axis": null}}},
  {"data": {"name": "xmin"}, "mark": {"type": "tick", "orient": "vertical", "size": 4, "thickness": 1.3, "color": "#000", "opacity": 1, "yOffset": 2}, "encoding": {"x": {"field": "v", "type": "quantitative", "scale": {"domain": [0, 180], "nice": false, "zero": false}, "axis": null}, "y": {"datum": 1.4, "type": "quantitative", "scale": {"domain": [0, 1.4], "nice": false}, "axis": null}}},
  {"data": {"name": "ymaj"}, "mark": {"type": "tick", "orient": "horizontal", "size": 8, "thickness": 1.3, "color": "#000", "opacity": 1, "xOffset": 4}, "encoding": {"y": {"field": "v", "type": "quantitative", "scale": {"domain": [0, 1.4], "nice": false}, "axis": null}, "x": {"datum": 0, "type": "quantitative", "scale": {"domain": [0, 180], "nice": false, "zero": false}, "axis": null}}},
  {"data": {"name": "ymin"}, "mark": {"type": "tick", "orient": "horizontal", "size": 5, "thickness": 1.3, "color": "#000", "opacity": 1, "xOffset": 2.5}, "encoding": {"y": {"field": "v", "type": "quantitative", "scale": {"domain": [0, 1.4], "nice": false}, "axis": null}, "x": {"datum": 0, "type": "quantitative", "scale": {"domain": [0, 180], "nice": false, "zero": false}, "axis": null}}},
  {"data": {"name": "ymaj"}, "mark": {"type": "tick", "orient": "horizontal", "size": 8, "thickness": 1.3, "color": "#000", "opacity": 1, "xOffset": -4}, "encoding": {"y": {"field": "v", "type": "quantitative", "scale": {"domain": [0, 1.4], "nice": false}, "axis": null}, "x": {"datum": 180, "type": "quantitative", "scale": {"domain": [0, 180], "nice": false, "zero": false}, "axis": null}}},
  {"data": {"name": "ymin"}, "mark": {"type": "tick", "orient": "horizontal", "size": 5, "thickness": 1.3, "color": "#000", "opacity": 1, "xOffset": -2.5}, "encoding": {"y": {"field": "v", "type": "quantitative", "scale": {"domain": [0, 1.4], "nice": false}, "axis": null}, "x": {"datum": 180, "type": "quantitative", "scale": {"domain": [0, 180], "nice": false, "zero": false}, "axis": null}}},
  {
   "data": {"values": [{"label": "(c) Toluene"}]},
   "mark": {"type": "text", "align": "left", "baseline": "middle", "fontSize": 26, "font": "Liberation Sans", "color": "#111"},
   "encoding": {"x": {"datum": 5.6, "type": "quantitative", "scale": {"domain": [0, 180], "nice": false, "zero": false}, "axis": null}, "y": {"datum": 1.25, "type": "quantitative", "scale": {"domain": [0, 1.4], "nice": false}, "axis": null}, "text": {"field": "label"}}
  }
 ]
}
]
}
